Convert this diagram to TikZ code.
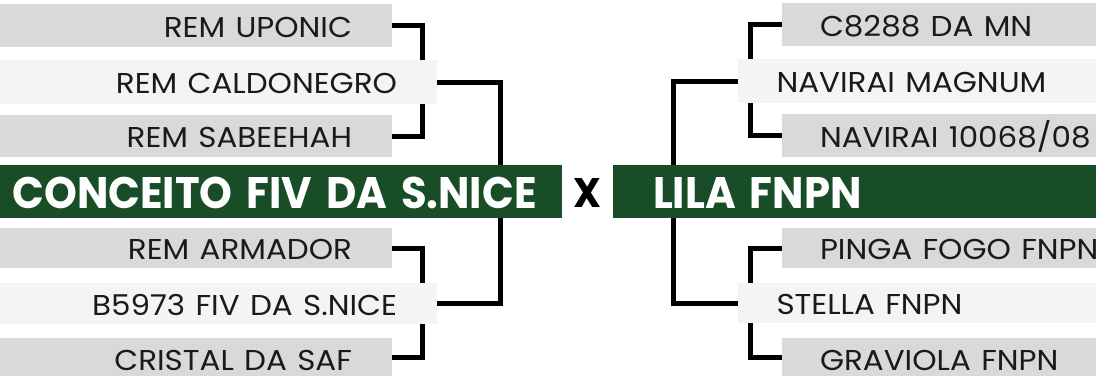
\documentclass[tikz,border=0pt]{standalone}
\usepackage{fontspec}
\usetikzlibrary{backgrounds}
\newfontfamily\pop{Poppins}
\definecolor{boxgray}{HTML}{D9D9D9}
\definecolor{boxlight}{HTML}{F4F4F4}
\definecolor{band}{HTML}{194D27}
\definecolor{ink}{HTML}{1A1A1A}
\newlength\calw
\newlength\titw
\newlength\caph
\newlength\bcaph
\newcommand\regf{\pop\fontsize{\regsz}{\regsz}\selectfont}
\newcommand\bldf{\pop\bfseries\fontsize{\bldsz}{\bldsz}\selectfont}
\newcommand\vsf{\pop\bfseries\fontsize{\vssz}{\vssz}\selectfont}
\newcommand\rtx[1]{\scalebox{\rsx}[1]{#1}}
\newcommand\btx[1]{\scalebox{\bsx}[1]{#1}}
\AtBeginDocument{%
  \settoheight\caph{\pop\fontsize{100}{100}\selectfont H}%
  \settoheight\bcaph{\pop\bfseries\fontsize{100}{100}\selectfont H}%
  \pgfmathsetmacro\regsz{2000/\caph}%
  \pgfmathsetmacro\bldsz{3100/\bcaph}%
  \pgfmathsetmacro\vssz{2900/\bcaph}%
  \settowidth\calw{\regf REM CALDONEGRO}%
  \settowidth\titw{\bldf CONCEITO FIV DA S.NICE}%
  \pgfmathsetmacro\rsx{279/\calw}%
  \pgfmathsetmacro\bsx{509/\titw}%
}
\tikzset{
  conn/.style={line width=5pt, black},
  basebox/.style={rectangle, inner ysep=0pt, text height=23pt, text depth=0pt, font=\regf, text=ink, minimum height=#1},
  lbox/.style={basebox=#1, fill=boxgray, text width=312pt, inner xsep=40pt, align=right},
  lwide/.style={basebox=#1, fill=boxlight, text width=357pt, inner xsep=40pt, align=right},
  rbox/.style={basebox=#1, fill=boxgray, text width=238pt, inner xsep=38pt, align=left},
  rwide/.style={basebox=#1, fill=boxlight, text width=281pt, inner xsep=38.5pt, align=left},
  bottomrow/.style={text height=26pt},
  bandbox/.style={rectangle, fill=band, text=white, font=\bldf, minimum height=53pt, inner ysep=0pt, text height=33pt, text depth=0pt, inner xsep=0pt, align=left}
}
\begin{document}
\begin{tikzpicture}[x=1pt,y=-1pt]
\useasboundingbox (0,0) rectangle (1096,376);
\clip (0,0) rectangle (1096,376);
% left side
\node[lbox=43pt] (uponic) at (196,25.5) {\rtx{REM UPONIC}};
\node[lwide=44pt] (caldo) at (218.5,82) {\rtx{REM CALDONEGRO}};
\node[lbox=42pt] (sabeehah) at (196,136) {\rtx{REM SABEEHAH}};
\node[lbox=40pt] (armador) at (196,248) {\rtx{REM ARMADOR}};
\node[lwide=41pt] (b5973) at (218.5,303.5) {\rtx{B5973 FIV DA S.NICE}};
\node[lbox=38pt, bottomrow] (cristal) at (196,357) {\rtx{CRISTAL DA SAF}};
% right side
\node[rbox=43pt] (c8288) at (939,24.5) {\rtx{C8288 DA MN}};
\node[rwide=44pt] (magnum) at (917,81) {\rtx{NAVIRAI MAGNUM}};
\node[rbox=43pt] (n10068) at (939,135.5) {\rtx{NAVIRAI 10068/08}};
\node[rbox=40pt] (pinga) at (939,248) {\rtx{PINGA FOGO FNPN}};
\node[rwide=40pt] (stella) at (917,303) {\rtx{STELLA FNPN}};
\node[rbox=38pt, bottomrow] (graviola) at (939,357) {\rtx{GRAVIOLA FNPN}};
% bands
\node[bandbox, minimum width=562pt, text width=562pt] (sire) at (281,191.5) {\hspace*{12.5pt}\btx{CONCEITO FIV DA S.NICE}};
\node[bandbox, minimum width=483pt, text width=483pt] (dam) at (854.5,191.5) {\hspace*{40pt}\btx{LILA FNPN}};
\node[anchor=base, font=\vsf, text=black, inner sep=0pt] (vs) at (587,207) {\btx{X}};
\begin{pgfonlayer}{background}
\draw[conn] (uponic.east) -- ++(30,0) |- (sabeehah.east);
\draw[conn] (armador.east) -- ++(30,0) |- (cristal.east);
\draw[conn] (caldo.east) -- ++(63,0) |- (b5973.east);
\draw[conn] (c8288.west) -- ++(-31,0) |- (n10068.west);
\draw[conn] (pinga.west) -- ++(-31,0) |- (graviola.west);
\draw[conn] (magnum.west) -- ++(-64,0) |- (stella.west);
\end{pgfonlayer}
\end{tikzpicture}
\end{document}
